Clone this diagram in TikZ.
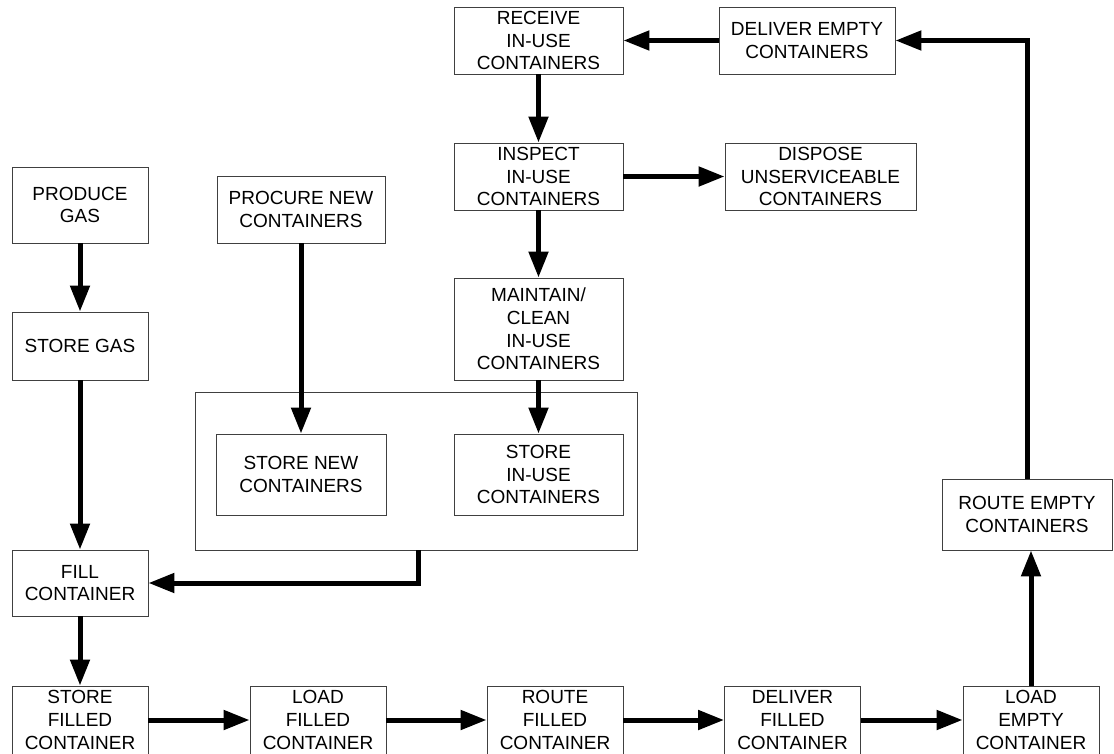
\documentclass[tikz,border=0pt]{standalone}
\usepackage{fontspec}
\setmainfont{Liberation Sans}
\usetikzlibrary{arrows.meta,positioning,calc}
\tikzset{
  box/.style={draw=black!75, line width=0.9pt, fill=white, align=center, inner sep=1pt,
    font=\fontsize{19}{22.8}\selectfont},
  flow/.style={line width=5pt, -{Triangle[length=26pt,width=19pt]}},
  plain/.style={line width=5pt}
}
\begin{document}
\begin{tikzpicture}[x=1pt,y=-1pt]
\clip (0,0) rectangle (1114,753);
\useasboundingbox (0,0) rectangle (1114,753);
% group container
\node[box, minimum width=442pt, minimum height=158pt] (group) at (416,471) {};
% middle column
\node[box, minimum width=169pt, minimum height=67pt] (receive) at (538.5,40.5) {RECEIVE\\IN-USE\\CONTAINERS};
\node[box, minimum width=176pt, minimum height=67pt] (deliverE) at (807,40.5) {DELIVER EMPTY\\CONTAINERS};
\node[box, minimum width=169pt, minimum height=67pt] (inspect) at (538.5,176.5) {INSPECT\\IN-USE\\CONTAINERS};
\node[box, minimum width=191pt, minimum height=67pt] (dispose) at (820.5,176.5) {DISPOSE\\UNSERVICEABLE\\CONTAINERS};
\node[box, minimum width=169pt, minimum height=102pt] (maintain) at (538.5,329) {MAINTAIN/\\CLEAN\\IN-USE\\CONTAINERS};
\node[box, minimum width=168pt, minimum height=67pt] (procure) at (301,209.5) {PROCURE NEW\\CONTAINERS};
\node[box, minimum width=170pt, minimum height=81pt] (storenew) at (301,474.5) {STORE NEW\\CONTAINERS};
\node[box, minimum width=169pt, minimum height=81pt] (storeinuse) at (538.5,474.5) {STORE\\IN-USE\\CONTAINERS};
% left column
\node[box, minimum width=136pt, minimum height=76pt] (produce) at (80,205) {PRODUCE\\GAS};
\node[box, minimum width=136pt, minimum height=68pt] (storegas) at (80,346) {STORE GAS};
\node[box, minimum width=136pt, minimum height=66pt] (fill) at (80,583) {FILL\\CONTAINER};
% right
\node[box, minimum width=170pt, minimum height=71pt] (routeE) at (1027,514.5) {ROUTE EMPTY\\CONTAINERS};
% bottom row
\node[box, minimum width=136pt, minimum height=68pt] (storefilled) at (80,720) {STORE\\FILLED\\CONTAINER};
\node[box, minimum width=136pt, minimum height=68pt] (loadfilled) at (318,720) {LOAD\\FILLED\\CONTAINER};
\node[box, minimum width=136pt, minimum height=68pt] (routefilled) at (555,720) {ROUTE\\FILLED\\CONTAINER};
\node[box, minimum width=136pt, minimum height=68pt] (deliverfilled) at (792.5,720) {DELIVER\\FILLED\\CONTAINER};
\node[box, minimum width=136pt, minimum height=68pt] (loadempty) at (1031,720) {LOAD\\EMPTY\\CONTAINER};
% connectors
\draw[flow] (produce.south) -- (storegas.north);
\draw[flow] (storegas.south) -- (fill.north);
\draw[flow] (fill.south) -- (storefilled.north);
\draw[flow] (storefilled.east) -- (loadfilled.west);
\draw[flow] (loadfilled.east) -- (routefilled.west);
\draw[flow] (routefilled.east) -- (deliverfilled.west);
\draw[flow] (deliverfilled.east) -- (loadempty.west);
\draw[flow] (loadempty.north) -- (loadempty.north |- routeE.south);
\draw[flow] (routeE.north) |- (deliverE.east);
\draw[flow] (deliverE.west) -- (receive.east);
\draw[flow] (receive.south) -- (inspect.north);
\draw[flow] (inspect.east) -- (dispose.west);
\draw[flow] (inspect.south) -- (maintain.north);
\draw[flow] (maintain.south) -- (storeinuse.north);
\draw[flow] (procure.south) -- (storenew.north);
\coordinate (gout) at ($(group.south west)+(224,0)$);
\draw[flow] (gout) |- (fill.east);
\end{tikzpicture}
\end{document}
